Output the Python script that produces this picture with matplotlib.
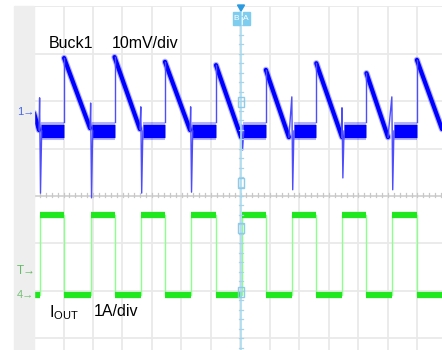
import matplotlib
matplotlib.use('Agg')
import matplotlib.pyplot as plt
from matplotlib.patches import Rectangle, Polygon

plt.rcParams['font.family'] = ['Liberation Sans', 'DejaVu Sans']

# ---------------- data (time in divisions, Buck1 in mV, IOUT in A) ----------------
t_rise = [0.20, 1.93, 3.63, 5.32, 7.05, 8.75, 10.45, 12.14]      # IOUT step up
t_fall = [1.02, 2.73, 4.44, 6.17, 7.86, 9.57, 11.27, 12.98]      # IOUT step down
peak_mV = [11.6, 11.8, 10.8, 10.1, 9.1, 10.5, 8.4, 11.2]         # overshoot peaks
ramp_end_t = [1.90, 3.59, 5.29, 7.02, 8.64, 10.44, 12.00, 13.83]
ramp_end_mV = [-3.2, -3.4, -3.6, -5.1, -5.1, -5.1, -5.1, -3.4]
spike_up_mV = [3.2, 2.1, 1.3, 1.3, -2.5, 3.4, 1.1, 3.4]
spike_down_mV = [-16.9, -17.9, -16.9, -16.7, -7.8, -16.2, -13.7, -16.2]
start_t = [0.0, 0.17]
start_mV = [0.0, -3.6]
band_mV = -3.8
band_top_mV = -1.9
iout_high = 1.68
iout_low = 0.0
t_end = 13.83

ch1_label = "Buck1"
ch1_scale = "10mV/div"
ch4_label = r"$\mathregular{I_{OUT}}$"
ch4_scale = "1A/div"

# ---------------- layout ----------------
W, H = 442, 350
PX_DIV_X, PX_DIV_Y = 29.5, 47.4
X0, Y_TOP, Y_CENTER = 34, 6, 196
CH1_OFF = (Y_CENTER - 113) / PX_DIV_Y     # ch1 ground marker
CH4_OFF = (Y_CENTER - 295) / PX_DIV_Y     # ch4 ground marker

def v1(mv):
    return mv / 10.0 + CH1_OFF

def v4(a):
    return a + CH4_OFF

fig = plt.figure(figsize=(W / 100, H / 100), dpi=100)
fig.patch.set_facecolor('white')
fig.patches.append(Rectangle((14 / W, 0), 20 / W, (H - Y_TOP) / H,
                             transform=fig.transFigure, color='#eeeeee', zorder=0))

ax = fig.add_axes([X0 / W, 0, (W - X0) / W, (H - Y_TOP) / H])
ax.set_xlim(0, (W - X0) / PX_DIV_X)
ax.set_ylim(-(H - Y_CENTER) / PX_DIV_Y, (Y_CENTER - Y_TOP) / PX_DIV_Y)
ax.set_axis_off()
ax.add_patch(Rectangle((0, 0), 1, 1, transform=ax.transAxes, color='white', zorder=0))

# grid
for k in range(0, 14):
    ax.axvline(k, color='#e9e9e9', lw=1.3, zorder=1)
for k in range(-3, 5):
    ax.axhline(k, color='#e9e9e9', lw=1.3, zorder=1)
ax.axhline(0, color='#d2d2d2', lw=1.2, zorder=1)
tk = 0.0
while tk < 14:
    ax.plot([tk, tk], [-0.015, 0.06], color='#c8c8c8', lw=0.9, zorder=1)
    tk += 0.2

# cursor line
xc = (241 - X0) / PX_DIV_X
ax.axvline(xc, color='#a9dcf2', lw=1.2, zorder=5)
yk = -3.2
while yk < 4.0:
    ax.plot([xc - 0.07, xc + 0.07], [yk, yk], color='#a9d3e6', lw=0.9, zorder=5)
    yk += 0.2
for yb in [1.98, 0.27, -0.68, -2.03]:
    ax.add_patch(Rectangle((xc - 0.1, yb - 0.105), 0.2, 0.21, fill=False,
                           ec='#8ccbea', lw=1.0, zorder=6))

# ---------------- Buck1 (blue) ----------------
BLUE = '#0000ff'
THIN = '#4d4dff'
# flat noisy bands while load is high
for k in range(len(t_rise)):
    xs = [t_rise[k] + 0.05, t_fall[k]]
    ax.plot(xs, [v1(band_mV)] * 2, color=BLUE, lw=13, alpha=0.3,
            solid_capstyle='butt', zorder=3)
    ax.plot(xs, [v1(band_mV)] * 2, color=BLUE, lw=9.5, solid_capstyle='butt', zorder=3)
# ramps after load release
ramps = [(start_t, start_mV)]
for k in range(len(t_fall)):
    ramps.append(([t_fall[k], ramp_end_t[k]], [peak_mV[k], ramp_end_mV[k]]))
for xs, ys in ramps:
    ax.plot(xs, [v1(y) for y in ys], color=BLUE, lw=4.6, alpha=0.3,
            solid_capstyle='round', zorder=3)
    ax.plot(xs, [v1(y) for y in ys], color=BLUE, lw=3.0, solid_capstyle='round', zorder=3)
# rising edges at load release
for k in range(len(t_fall)):
    ax.plot([t_fall[k], t_fall[k]], [v1(band_top_mV), v1(peak_mV[k])],
            color=THIN, lw=1.0, zorder=3)
# spikes at load application
prev_t = [start_t[1]] + ramp_end_t[:-1]
prev_v = [start_mV[1]] + ramp_end_mV[:-1]
for k in range(len(t_rise)):
    xs = [prev_t[k], t_rise[k] - 0.01, t_rise[k] + 0.02, t_rise[k] + 0.06]
    ys = [prev_v[k], spike_up_mV[k], spike_down_mV[k], band_mV]
    ax.plot(xs, [v1(y) for y in ys], color=THIN, lw=1.0, zorder=3)

# ---------------- IOUT (green) ----------------
GREEN = '#1fe81f'
LGREEN = '#8cff8c'
gx = [0.0]
gy = [iout_low]
for r, f in zip(t_rise, t_fall):
    gx += [r, r, f, f]
    gy += [iout_low, iout_high, iout_high, iout_low]
gx.append(t_end)
gy.append(iout_low)
ax.plot(gx, [v4(y) for y in gy], color=LGREEN, lw=1.0, zorder=3)
for i in range(len(gx) - 1):
    if gy[i] == gy[i + 1]:
        ax.plot([gx[i], gx[i + 1]], [v4(gy[i])] * 2, color=GREEN, lw=4.5,
                solid_capstyle='butt', zorder=3)

# ---------------- texts ----------------
def fx(px):
    return px / W

def fy(py):
    return 1 - py / H

fig.text(fx(49), fy(44), ch1_label, fontsize=11.5, va='center', ha='left', color='black')
fig.text(fx(112), fy(44), ch1_scale, fontsize=11.5, va='center', ha='left', color='black')
fig.text(fx(49), fy(313), ch4_label, fontsize=11.5, va='center', ha='left', color='black')
fig.text(fx(94), fy(312), ch4_scale, fontsize=11.5, va='center', ha='left', color='black')

fig.text(fx(17), fy(112), "1\u2192", fontsize=8, va='center', ha='left', color='#4466ee')
fig.text(fx(17), fy(271), "T\u2192", fontsize=8.5, va='center', ha='left', color='#66bb66')
fig.text(fx(17), fy(295), "4\u2192", fontsize=8, va='center', ha='left', color='#77c077')

# trigger tabs at top
for x0, lab in [(233, "B"), (242.5, "A")]:
    fig.patches.append(Rectangle((fx(x0), fy(25)), 7 / W, 13 / H, transform=fig.transFigure,
                                 color='#7fcdee', zorder=10))
    fig.text(fx(x0 + 3.5), fy(18.5), lab, fontsize=6, color='white', ha='center',
             va='center', zorder=11)
fig.patches.append(Polygon([(fx(237.5), fy(5)), (fx(244.5), fy(5)), (fx(241), fy(11))],
                           closed=True, transform=fig.transFigure, color='#2a9be0', zorder=10))

fig.savefig('out.png', dpi=100)
